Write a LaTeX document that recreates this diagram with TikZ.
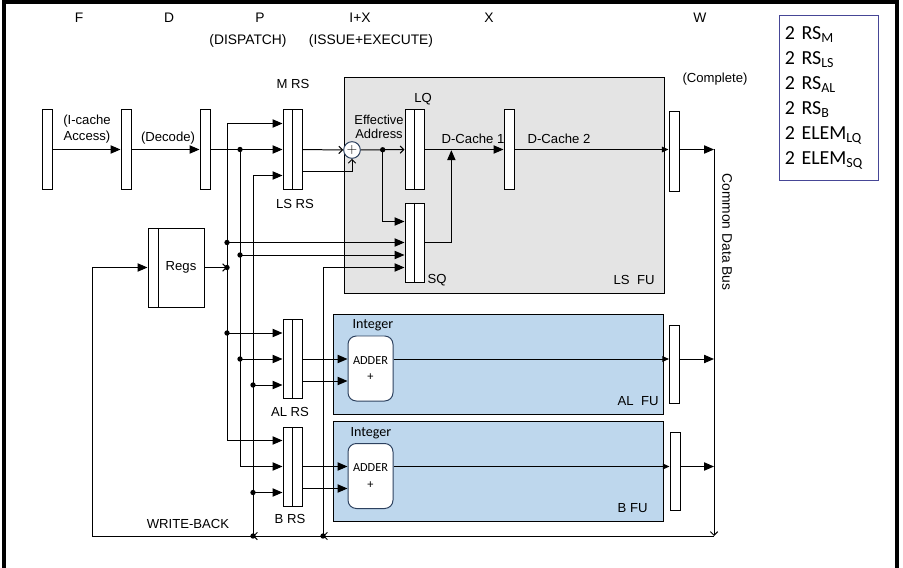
\documentclass[tikz,border=0pt]{standalone}
\usepackage{fontspec}
\setmainfont{Liberation Sans}
\newfontfamily\calibri{Carlito}
\usetikzlibrary{arrows.meta,calc,positioning}
\definecolor{lsgray}{RGB}{228,228,228}
\definecolor{fublue}{RGB}{190,215,237}
\definecolor{adderedge}{RGB}{45,65,95}
\definecolor{legendedge}{RGB}{70,70,150}
\tikzset{
  latch/.style={draw, fill=white, minimum width=0.3cm, minimum height=2.37cm, inner sep=0pt},
  rsbox/.style={draw, fill=white, minimum width=0.57cm, minimum height=2.37cm, inner sep=0pt,
    path picture={\draw (path picture bounding box.north) -- (path picture bounding box.south);}},
  fubox/.style={draw, fill=fublue, minimum width=9.9cm, minimum height=3cm, inner sep=0pt},
  adderbox/.style={draw=adderedge, fill=white, rounded corners=0.25cm, minimum width=1.35cm,
    minimum height=1.95cm, align=center, font=\calibri\fontsize{10.5}{12}\selectfont},
  lbl/.style={inner sep=0pt, align=center},
  stage/.style={inner sep=0pt, font=\fontsize{11.8}{13}\selectfont},
  sm/.style={-{Triangle[length=0.2cm,width=0.17cm]}},
  op/.style={-{Straight Barb[length=0.11cm,width=0.22cm]}}
}
\begin{document}
\begin{tikzpicture}[x=0.03cm, y=-0.03cm, line width=0.85pt, >={Triangle[length=0.3cm,width=0.25cm]},
  font=\fontsize{11.2}{12}\selectfont]
  \useasboundingbox (0,0) rectangle (903,568);
  \draw[line width=2.6pt] (4,568) -- (4,2) -- (897,2) -- (897,568);
  % stage names
  \node[stage] (sF) at (79,18) {F};
  \node[stage] (sD) at (169,18) {D};
  \node[stage] (sP) at (260,18) {P};
  \node[stage] (sIX) at (360,18) {I+X};
  \node[stage] (sX) at (489,18) {X};
  \node[stage] (sW) at (700,18) {W};
  \node[stage] (sdisp) at (248,41) {(DISPATCH)};
  \node[stage] (sissue) at (371,41) {(ISSUE+EXECUTE)};
  % functional unit boxes
  \node[draw, fill=lsgray, minimum width=9.6cm, minimum height=6.45cm] (lsfu) at (504,185.5) {};
  \node[fubox] (alfu) at (498,364) {};
  \node[fubox] (bfu) at (498,471) {};
  \node[lbl, anchor=south east] (lsfulbl) at (655,285) {LS\ \ FU};
  \node[lbl, anchor=south east] (alfulbl) at (659,406) {AL\ \ FU};
  \node[lbl, anchor=south east] (bfulbl) at (648,513) {B FU};
  \node[lbl, font=\calibri\fontsize{12}{13}\selectfont] (alint) at (373,325) {Integer};
  \node[lbl, font=\calibri\fontsize{12}{13}\selectfont] (bint) at (371,433) {Integer};
  \node[adderbox] (aladd) at (370.5,368.5) {ADDER\\[2pt]+};
  \node[adderbox] (badd) at (370.5,476) {ADDER\\[2pt]+};
  % pipeline latches and queues
  \node[latch] (fl) at (47,149.5) {};
  \node[latch] (dl) at (126,149.5) {};
  \node[latch] (pl) at (205,149.5) {};
  \node[rsbox] (lsrs) at (292.5,149.5) {};
  \node[rsbox] (alrs) at (292.5,359) {};
  \node[rsbox] (brs) at (292.5,466.5) {};
  \node[rsbox] (lq) at (414.5,149.5) {};
  \node[rsbox] (sq) at (414.5,242.5) {};
  \node[latch] (dc) at (509,149.5) {};
  \node[latch] (wls) at (674,151.5) {};
  \node[latch, minimum height=2.34cm] (wal) at (674.5,364) {};
  \node[latch, minimum height=2.34cm] (wb) at (675,471) {};
  \node[draw, fill=white, minimum width=1.68cm, minimum height=2.37cm,
    path picture={\draw ($(path picture bounding box.north west)+(10,0)$) -- ($(path picture bounding box.south west)+(10,0)$);}]
    (regs) at (176,267.5) {\hspace*{0.3cm}Regs};
  \node[circle, draw=adderedge, fill=white, minimum size=0.5cm, inner sep=0pt, font=\large] (ea) at (352,150) {$+$};
  % labels
  \node[lbl, font=\fontsize{11.2}{13}\selectfont] (icache) at (87,129) {(I-cache\\Access)};
  \node[lbl] (decode) at (168,138) {(Decode)};
  \node[lbl] (mrslbl) at (293,84) {M RS};
  \node[lbl] (lsrslbl) at (295,204) {LS RS};
  \node[lbl] (alrslbl) at (290,412) {AL RS};
  \node[lbl] (brslbl) at (290,519) {B RS};
  \node[lbl] (wblbl) at (188,524) {WRITE-BACK};
  \node[lbl, font=\fontsize{11}{11.6}\selectfont] (ealbl) at (379,127) {Effective\\Address};
  \node[lbl] (lqlbl) at (423,99) {LQ};
  \node[lbl] (sqlbl) at (437,280) {SQ};
  \node[lbl] (dc1lbl) at (473,139) {D-Cache 1};
  \node[lbl] (dc2lbl) at (559,139) {D-Cache 2};
  \node[lbl] (complbl) at (715,79) {(Complete)};
  \node[lbl, rotate=-90, font=\fontsize{11.8}{13}\selectfont] (cdblbl) at (727,232) {Common Data Bus};
  % legend
  \node[draw=legendedge, anchor=north west, minimum height=4.95cm, text width=2.65cm,
    inner xsep=0.16cm, align=left, font=\calibri\fontsize{17}{21.3}\selectfont] (legend) at (779,15)
    {2 RS\textsubscript{M}\\2 RS\textsubscript{LS}\\2 RS\textsubscript{AL}\\2 RS\textsubscript{B}\\
     2 ELEM\textsubscript{LQ}\\2 ELEM\textsubscript{SQ}};
  % RS inputs and second outputs
  \foreach \r in {lsrs,alrs,brs}{
    \coordinate (\r-a) at ($(\r.west)+(0,-26)$);
    \coordinate (\r-c) at ($(\r.west)+(0,26)$);
    \coordinate (\r-o) at ($(\r.east)+(0,22)$);
  }
  \coordinate (sq-a) at ($(sq.west)+(0,-21)$);
  \coordinate (sq-c) at ($(sq.west)+(0,12.5)$);
  \coordinate (busA) at (227,0);
  \coordinate (busB) at (240,0);
  \coordinate (busC) at (253,0);
  \coordinate (busD) at (323,0);
  \coordinate (rb) at (92,0);
  \coordinate (cdbtop) at (714,149.5);
  \coordinate (cdbbot) at (714,536);
  \coordinate (eadot) at ($(ea.east)!0.5!(lq.west)$);
  % front end
  \draw[->] (fl) -- (dl);
  \draw[->] (dl) -- (pl);
  \draw[->] (pl) -- (lsrs);
  \draw[op] (regs.east) -- (busA |- regs.east);
  % dispatch buses
  \draw (busA |- lsrs-a) -- (busA |- brs-a);
  \draw[->] (busA |- lsrs-a) -- (lsrs-a);
  \draw[->] (busA |- sq.west) -- (sq.west);
  \draw[->] (busA |- alrs-a) -- (alrs-a);
  \draw[->] (busA |- brs-a) -- (brs-a);
  \draw (busB |- lsrs.west) -- (busB |- brs.west);
  \draw[->] (busB |- sq-c) -- (sq-c);
  \draw[->] (busB |- alrs.west) -- (alrs.west);
  \draw[->] (busB |- brs.west) -- (brs.west);
  \draw (busC |- lsrs-c) -- (busC |- cdbbot);
  \draw[->] (busC |- lsrs-c) -- (lsrs-c);
  \draw[->] (busC |- alrs-c) -- (alrs-c);
  \draw[->] (busC |- brs-c) -- (brs-c);
  \draw (busD |- regs.east) -- (busD |- cdbbot);
  \draw[->] (busD |- regs.east) -- (sq.west |- regs.east);
  % load/store unit
  \draw[op] (lsrs) -- (ea);
  \draw[op] (lsrs-o) -| (ea.south);
  \draw[op] (ea) -- (lq);
  \draw[->] (eadot) |- (sq-a);
  \draw[->] (lq) -- (dc);
  \draw[->, shorten >=0.6pt] (sq.east) -| ($(lq.east)!0.34!(dc.west)$);
  \draw[sm] (dc.east) -- (dc.east -| wls.west);
  \draw[->] (dc.east -| wls.east) -- (cdbtop);
  % integer units
  \draw[->] (alrs) -- (aladd.west |- alrs.west);
  \draw[->] (alrs-o) -- (aladd.west |- alrs-o);
  \draw[sm] (aladd.east |- alrs.east) -- (wal.west |- alrs.east);
  \draw[->] (wal.east |- alrs.east) -- (cdbtop |- alrs.east);
  \draw[->] (brs) -- (badd.west |- brs.west);
  \draw[->] (brs-o) -- (badd.west |- brs-o);
  \draw[sm] (badd.east |- brs.east) -- (wb.west |- brs.east);
  \draw[->] (wb.east |- brs.east) -- (cdbtop |- brs.east);
  % common data bus and write-back
  \draw[op] (cdbtop) -- (cdbbot);
  \draw[op] (cdbbot) -- (busD |- cdbbot);
  \draw[op] (busD |- cdbbot) -- (busC |- cdbbot);
  \draw[->] (busC |- cdbbot) -| (rb |- regs.west) -- (regs.west);
  \foreach \p in {busA |- regs.east, busA |- sq.west, busA |- alrs-a, busB |- lsrs.west, busB |- sq-c,
    busB |- alrs.west, busC |- alrs-c, busC |- brs-c, busC |- cdbbot, busD |- cdbbot, eadot}
    \fill (\p) circle (0.08cm);
\end{tikzpicture}
\end{document}
